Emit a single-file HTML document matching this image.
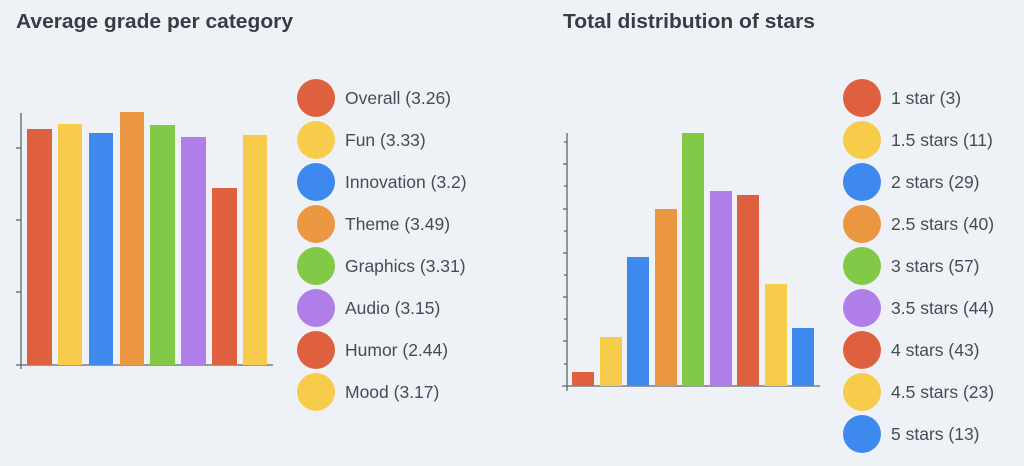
<!DOCTYPE html>
<html><head><meta charset="utf-8"><style>
html,body{margin:0;padding:0;background:#eef2f7;width:1024px;height:466px;overflow:hidden}
svg{display:block}
text{font-family:"Liberation Sans",sans-serif}
.t{font-weight:bold;font-size:20.5px;fill:#363d45}
.l{font-size:17.5px;fill:#454c55}
</style></head><body>
<svg width="1024" height="466" viewBox="0 0 1024 466">
<text class="t" x="16" y="28" textLength="277" lengthAdjust="spacingAndGlyphs">Average grade per category</text>
<text class="t" x="563" y="28" textLength="252" lengthAdjust="spacingAndGlyphs">Total distribution of stars</text>
<g stroke="#5f656c" stroke-width="1.3">
<line x1="21" y1="113" x2="21" y2="369"/><line x1="16" y1="365" x2="273" y2="365"/>
<line x1="16" y1="148" x2="21" y2="148"/><line x1="16" y1="220" x2="21" y2="220"/><line x1="16" y1="292" x2="21" y2="292"/>
<line x1="567" y1="133" x2="567" y2="391"/><line x1="562" y1="386" x2="820" y2="386"/>
<line x1="563" y1="164" x2="567" y2="164"/><line x1="563" y1="209" x2="567" y2="209"/><line x1="563" y1="253" x2="567" y2="253"/><line x1="563" y1="297" x2="567" y2="297"/><line x1="563" y1="341" x2="567" y2="341"/>
<line x1="564" y1="142" x2="567" y2="142"/><line x1="564" y1="186" x2="567" y2="186"/><line x1="564" y1="231" x2="567" y2="231"/><line x1="564" y1="275" x2="567" y2="275"/><line x1="564" y1="319" x2="567" y2="319"/><line x1="564" y1="364" x2="567" y2="364"/>
</g>
<g>
<rect x="27" y="129" width="25" height="236" fill="#df603f"/>
<rect x="58" y="124" width="24" height="241" fill="#f7cc4b"/>
<rect x="89" y="133" width="24" height="232" fill="#3e89ee"/>
<rect x="120" y="112" width="24" height="253" fill="#eb9641"/>
<rect x="150" y="125" width="25" height="240" fill="#82c948"/>
<rect x="181" y="137" width="25" height="228" fill="#b07ee8"/>
<rect x="212" y="188" width="25" height="177" fill="#df603f"/>
<rect x="243" y="135" width="24" height="230" fill="#f7cc4b"/>
</g>
<g>
<rect x="572" y="372" width="22" height="14" fill="#df603f"/>
<rect x="600" y="337" width="22" height="49" fill="#f7cc4b"/>
<rect x="627" y="257" width="22" height="129" fill="#3e89ee"/>
<rect x="655" y="209" width="22" height="177" fill="#eb9641"/>
<rect x="682" y="133" width="22" height="253" fill="#82c948"/>
<rect x="710" y="191" width="22" height="195" fill="#b07ee8"/>
<rect x="737" y="195" width="22" height="191" fill="#df603f"/>
<rect x="765" y="284" width="22" height="102" fill="#f7cc4b"/>
<rect x="792" y="328" width="22" height="58" fill="#3e89ee"/>
</g>
<g>
<circle cx="316" cy="98" r="19" fill="#df603f"/><text class="l" x="345" y="104">Overall (3.26)</text>
<circle cx="316" cy="140" r="19" fill="#f7cc4b"/><text class="l" x="345" y="146">Fun (3.33)</text>
<circle cx="316" cy="182" r="19" fill="#3e89ee"/><text class="l" x="345" y="188">Innovation (3.2)</text>
<circle cx="316" cy="224" r="19" fill="#eb9641"/><text class="l" x="345" y="230">Theme (3.49)</text>
<circle cx="316" cy="266" r="19" fill="#82c948"/><text class="l" x="345" y="272">Graphics (3.31)</text>
<circle cx="316" cy="308" r="19" fill="#b07ee8"/><text class="l" x="345" y="314">Audio (3.15)</text>
<circle cx="316" cy="350" r="19" fill="#df603f"/><text class="l" x="345" y="356">Humor (2.44)</text>
<circle cx="316" cy="392" r="19" fill="#f7cc4b"/><text class="l" x="345" y="398">Mood (3.17)</text>
</g>
<g>
<circle cx="862" cy="98" r="19" fill="#df603f"/><text class="l" x="891" y="104">1 star (3)</text>
<circle cx="862" cy="140" r="19" fill="#f7cc4b"/><text class="l" x="891" y="146">1.5 stars (11)</text>
<circle cx="862" cy="182" r="19" fill="#3e89ee"/><text class="l" x="891" y="188">2 stars (29)</text>
<circle cx="862" cy="224" r="19" fill="#eb9641"/><text class="l" x="891" y="230">2.5 stars (40)</text>
<circle cx="862" cy="266" r="19" fill="#82c948"/><text class="l" x="891" y="272">3 stars (57)</text>
<circle cx="862" cy="308" r="19" fill="#b07ee8"/><text class="l" x="891" y="314">3.5 stars (44)</text>
<circle cx="862" cy="350" r="19" fill="#df603f"/><text class="l" x="891" y="356">4 stars (43)</text>
<circle cx="862" cy="392" r="19" fill="#f7cc4b"/><text class="l" x="891" y="398">4.5 stars (23)</text>
<circle cx="862" cy="434" r="19" fill="#3e89ee"/><text class="l" x="891" y="440">5 stars (13)</text>
</g>
</svg>
</body></html>
